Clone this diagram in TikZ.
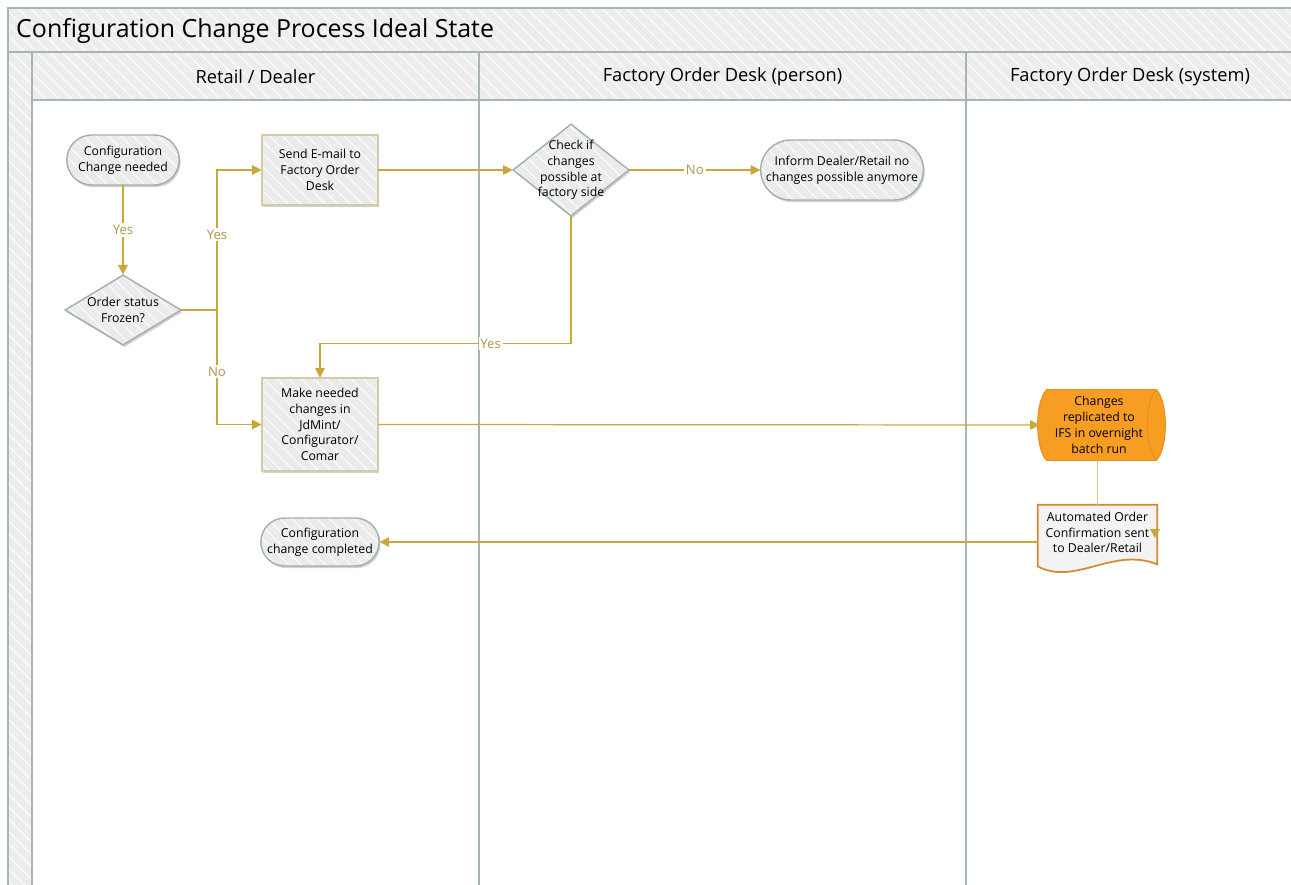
\documentclass[tikz,border=0pt]{standalone}
\usepackage{fontspec}
\setmainfont{Open Sans}
\usetikzlibrary{shapes.geometric,shapes.misc,arrows.meta,shadows,calc,patterns.meta}
\definecolor{flowline}{RGB}{201,167,60}
\definecolor{flowtext}{RGB}{176,150,72}
\definecolor{boxfill}{RGB}{235,235,235}
\definecolor{termline}{RGB}{158,178,170}
\definecolor{procline}{RGB}{212,202,166}
\definecolor{bandfill}{RGB}{237,237,237}
\definecolor{bandline}{RGB}{166,183,176}
\definecolor{ifsorange}{RGB}{247,157,34}
\definecolor{ifsline}{RGB}{232,142,36}
\definecolor{docline}{RGB}{214,138,48}

\begin{document}
\begin{tikzpicture}[x=0.02cm, y=-0.02cm,
  every node/.style={font=\fontsize{7}{9}\selectfont, align=center},
  hatch/.style={postaction={pattern={Lines[angle=-45,distance=5pt,line width=0.5pt]}, pattern color=white, fill opacity=0.3}},
  rim/.style={postaction={draw=#1, line width=0.8pt}},
  shade/.style={drop shadow={shadow xshift=0.8pt, shadow yshift=-1.2pt, opacity=0.18, fill=black}},
  terminal/.style={rounded rectangle, fill=boxfill, minimum width=2.32cm, minimum height=1cm, inner sep=1pt, shade, hatch, rim=termline},
  decision/.style={diamond, fill=boxfill, minimum width=2.32cm, minimum height=1.4cm, inner sep=0pt, shade, hatch, rim=termline},
  process/.style={rectangle, fill=boxfill, minimum width=2.32cm, minimum height=1.4cm, inner sep=1pt, shade, hatch, rim=procline},
  lanefont/.style={font=\fontsize{10.4}{12}\selectfont},
  flow/.style={draw=flowline, line width=0.7pt, -{Triangle[length=5.5pt,width=5.5pt]}},
  flowlabel/.style={fill=white, text=flowtext, inner sep=1pt, font=\fontsize{7.5}{9}\selectfont},
  link/.style={draw=flowline!65, line width=0.7pt}]
  \useasboundingbox (0,0) rectangle (1291,885);
  \clip (0,0) rectangle (1291,885);
  \fill[white] (0,0) rectangle (1291,885);

  % Pool and lanes
  \fill[bandfill, hatch] (8,8) rectangle (1300,52);
  \fill[bandfill, hatch] (8,52) rectangle (32,900);
  \fill[bandfill, hatch] (32,52) rectangle (1300,100);
  \draw[bandline, line width=1pt] (8,900) -- (8,8) -- (1300,8);
  \draw[bandline, line width=1pt] (8,52) -- (1300,52);
  \draw[bandline, line width=1pt] (32,100) -- (1300,100);
  \foreach \lx in {32,479,966}
    \draw[bandline, line width=1.2pt] (\lx,52) -- (\lx,900);
  \node[anchor=west, font=\fontsize{14.2}{17}\selectfont] (title) at (10,31) {Configuration Change Process Ideal State};
  \node[lanefont] (lane1) at (255.5,77) {Retail / Dealer};
  \node[lanefont] (lane2) at (722.5,77) {Factory Order Desk (person)};
  \node[lanefont] (lane3) at (1130,77) {Factory Order Desk (system)};

  % Retail / Dealer
  \node[terminal] (need) at (123,160) {Configuration\\Change needed};
  \node[decision] (frozen) at (123,310) {};
  \node (frozentxt) at (frozen) {Order status\\Frozen?};
  \node[process] (mail) at (320,170) {Send E-mail to\\Factory Order\\Desk};
  \node[process, minimum height=1.86cm] (make) at (320,424.5) {Make needed\\changes in\\JdMint/\\Configurator/\\Comar};
  \node[terminal, minimum height=0.96cm] (done) at (320,542) {Configuration\\change completed};

  % Factory Order Desk (person)
  \node[decision, minimum height=1.84cm] (check) at (571,170) {};
  \node (checktxt) at (check) {Check if\\changes\\possible at\\factory side};
  \node[terminal, minimum width=3.24cm, minimum height=1.2cm] (inform) at (842,170) {Inform Dealer/Retail no\\changes possible anymore};

  % Factory Order Desk (system)
  \node[minimum width=2.5cm, minimum height=1.4cm, inner sep=1pt] (ifs) at (1102.5,425) {};
  \fill[black, opacity=0.18, xshift=0.8pt, yshift=-1.2pt] ($(ifs.north west)+(7,0)$) -- ($(ifs.north east)+(-9,0)$)
    .. controls ($(ifs.north east)+(3,12)$) and ($(ifs.south east)+(3,-12)$) .. ($(ifs.south east)+(-9,0)$)
    -- ($(ifs.south west)+(7,0)$) .. controls ($(ifs.south west)+(-5,-12)$) and ($(ifs.north west)+(-5,12)$) .. cycle;
  \filldraw[fill=ifsorange, draw=ifsline, line width=0.6pt] ($(ifs.north west)+(7,0)$) -- ($(ifs.north east)+(-9,0)$)
    .. controls ($(ifs.north east)+(3,12)$) and ($(ifs.south east)+(3,-12)$) .. ($(ifs.south east)+(-9,0)$)
    -- ($(ifs.south west)+(7,0)$) .. controls ($(ifs.south west)+(-5,-12)$) and ($(ifs.north west)+(-5,12)$) .. cycle;
  \draw[ifsline, line width=0.6pt] ($(ifs.north east)+(-9,0)$)
    .. controls ($(ifs.north east)+(-21,12)$) and ($(ifs.south east)+(-21,-12)$) .. ($(ifs.south east)+(-9,0)$);
  \node (ifstxt) at ([xshift=-2pt]ifs.center) {Changes\\replicated to\\IFS in overnight\\batch run};
  \node[minimum width=2.38cm, minimum height=1.1cm, inner sep=1pt] (confirm) at (1097.5,532.5) {};
  \fill[black, opacity=0.18, xshift=0.8pt, yshift=-1.2pt] (confirm.north west) -- (confirm.north east) -- ($(confirm.south east)+(0,4)$)
    .. controls ($(confirm.south)+(15,-14)$) and ($(confirm.south)+(-22,26)$) .. ($(confirm.south west)+(0,6)$) -- cycle;
  \filldraw[fill=boxfill!60!white, draw=docline, line width=1pt] (confirm.north west) -- (confirm.north east) -- ($(confirm.south east)+(0,4)$)
    .. controls ($(confirm.south)+(15,-14)$) and ($(confirm.south)+(-22,26)$) .. ($(confirm.south west)+(0,6)$) -- cycle;
  \node (confirmtxt) at (confirm) {Automated Order\\Confirmation sent\\to Dealer/Retail};

  % Connectors
  \coordinate (split) at (217,310);
  \draw[flow] (need.south) -- node[flowlabel] {Yes} (frozen.north);
  \draw[draw=flowline, line width=0.7pt] (frozen.east) -- (split);
  \draw[flow] (split) |- node[flowlabel, pos=0.27] {Yes} (mail.west);
  \draw[flow] (split) |- node[flowlabel, pos=0.27] {No} (make.west);
  \draw[flow] (mail.east) -- (check.west);
  \draw[flow] (check.east) -- node[flowlabel] {No} (inform.west);
  \draw[flow] (check.south) |- node[flowlabel, pos=0.66] {Yes} ($(make.north)+(0,-34)$) -- (make.north);
  \draw[flow] (make.east) -- (ifs.west);
  \draw[link] (confirm.north |- ifs.south) -- (confirm.north);
  \draw[flow] (confirm.west |- done.east) -- (done.east);
  \fill[flowline] (1150,529) -- (1160,529) -- (1155,538) -- cycle;
\end{tikzpicture}
\end{document}
